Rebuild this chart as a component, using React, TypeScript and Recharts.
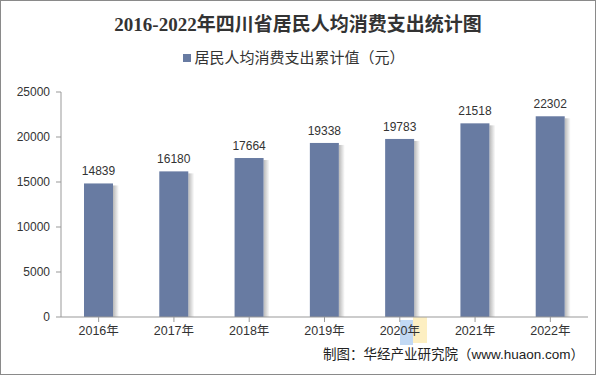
import React from "react";
import { BarChart, Bar, XAxis, YAxis, LabelList, Legend } from "recharts";

const categories = ["2016年", "2017年", "2018年", "2019年", "2020年", "2021年", "2022年"];
const values = [14839, 16180, 17664, 19338, 19783, 21518, 22302];
const yTicks = [0, 5000, 10000, 15000, 20000, 25000];
const seriesName = "居民人均消费支出累计值（元）";
const title = "2016-2022年四川省居民人均消费支出统计图";
const source = "制图：华经产业研究院（www.huaon.com）";

const data = categories.map((c, i) => ({ name: c, value: values[i] }));

const BAR_COLOR = "#687ba2";
const FONT = "'Liberation Sans', Arial, 'Noto Sans CJK SC', sans-serif";

const ShadowBar = (props: any) => {
  const { x, y, width, height } = props;
  if (height <= 0) return null;
  return (
    <g>
      <rect x={x + width} y={y + 2} width={6} height={height - 2} fill="url(#barShadow)" />
      <rect x={x} y={y} width={width} height={height} fill={BAR_COLOR} />
    </g>
  );
};

const LegendContent = () => (
  <div style={{ display: "flex", alignItems: "center", justifyContent: "center", fontFamily: FONT, fontSize: 15, color: "#333", height: 20, lineHeight: "20px", paddingRight: 8 }}>
    <span style={{ display: "inline-block", width: 8, height: 8, background: BAR_COLOR, marginRight: 3 }} />
    <span>{seriesName}</span>
  </div>
);

export default function App() {
  return (
    <div style={{ position: "absolute", left: 0, top: 0, width: 596, height: 375, background: "#fff" }}>
      <div style={{ position: "absolute", left: 0, top: 0, width: 594, height: 373, border: "1px solid #8a8a8a" }} />
      <div
        style={{
          position: "absolute",
          left: 0,
          top: 13,
          width: 596,
          textAlign: "center",
          fontFamily: "'Liberation Serif', 'Noto Sans CJK SC', serif",
          fontWeight: "bold",
          fontSize: 19,
          color: "#333",
          lineHeight: "24px",
        }}
      >
        {title}
      </div>
      <div style={{ position: "absolute", left: 400, top: 320, width: 13, height: 25, background: "rgba(120,170,230,0.45)" }} />
      <div style={{ position: "absolute", left: 413, top: 317, width: 14, height: 26, background: "rgba(250,220,120,0.45)" }} />
      <div style={{ position: "absolute", left: 0, top: 0 }}>
        <BarChart width={596} height={375} data={data} margin={{ top: 72, right: 8, left: 0, bottom: 28 }}>
          <defs>
            <linearGradient id="barShadow" x1="0" y1="0" x2="1" y2="0">
              <stop offset="0%" stopColor="#000" stopOpacity={0.28} />
              <stop offset="100%" stopColor="#000" stopOpacity={0} />
            </linearGradient>
          </defs>
          <Legend
            layout="vertical"
            align="center"
            verticalAlign="top"
            wrapperStyle={{ top: 48, left: 0, width: 596 }}
            content={<LegendContent />}
          />
          <XAxis
            dataKey="name"
            height={30}
            axisLine={{ stroke: "#999" }}
            tickLine={{ stroke: "#999" }}
            tickSize={5}
            tick={{ fill: "#333", fontSize: 12.5, fontFamily: FONT }}
            tickMargin={4}
            interval={0}
          />
          <YAxis
            width={61}
            domain={[0, 25000]}
            ticks={yTicks}
            axisLine={{ stroke: "#999" }}
            tickLine={{ stroke: "#999" }}
            tickSize={5}
            tickMargin={6}
            tick={{ fill: "#333", fontSize: 12, fontFamily: FONT }}
          />
          <Bar dataKey="value" name={seriesName} barSize={29} shape={<ShadowBar />} isAnimationActive={false}>
            <LabelList dataKey="value" position="top" offset={8} style={{ fill: "#333", fontSize: 12, fontFamily: FONT }} />
          </Bar>
        </BarChart>
      </div>
      <div
        style={{
          position: "absolute",
          right: 12,
          top: 346,
          fontFamily: "'Liberation Sans', 'Noto Sans CJK SC', sans-serif",
          fontSize: 13.5,
          color: "#222",
          lineHeight: "18px",
        }}
      >
        {source}
      </div>
    </div>
  );
}
